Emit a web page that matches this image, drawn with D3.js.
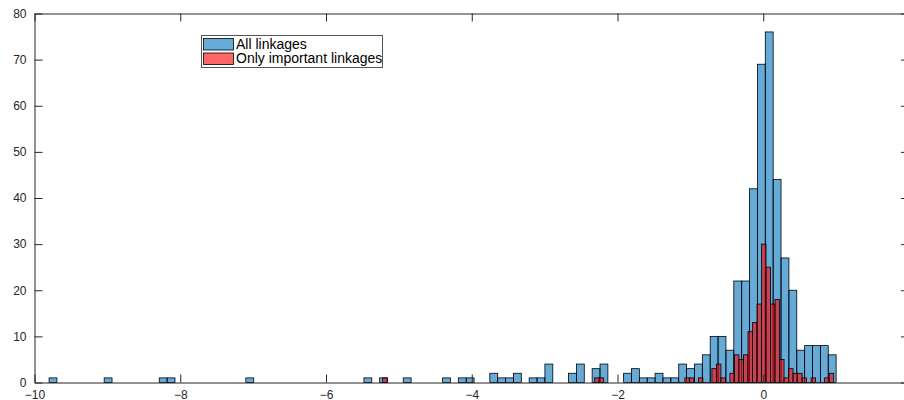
<!DOCTYPE html>
<html>
<head>
<meta charset="utf-8">
<script src="https://cdn.jsdelivr.net/npm/d3@7"></script>
<style>
  body { margin: 0; background: #ffffff; }
  text { font-family: "Liberation Sans", Arial, Helvetica, sans-serif; }
</style>
</head>
<body>
<div id="chart"></div>
<script>
"use strict"

// canvas
let svgWidth = 904;
let svgHeight = 400;

// histogram bins (100 equal bins each)
let allStart = -9.8;
let allWidth = 0.108;
let impStart = -5.222;
let impWidth = 0.06188;

// counts per bin - "All linkages"
let allCounts = [
    1, 0, 0, 0, 0, 0, 0, 1, 0, 0,
    0, 0, 0, 0, 1, 1, 0, 0, 0, 0,
    0, 0, 0, 0, 0, 1, 0, 0, 0, 0,
    0, 0, 0, 0, 0, 0, 0, 0, 0, 0,
    1, 0, 1, 0, 0, 1, 0, 0, 0, 0,
    1, 0, 1, 1, 0, 0, 2, 1, 1, 2,
    0, 1, 1, 4, 0, 0, 2, 4, 0, 3,
    4, 0, 0, 2, 3, 1, 1, 2, 1, 1,
    4, 3, 4, 6, 10, 10, 7, 22, 22, 42,
    69, 76, 44, 27, 20, 7, 8, 8, 8, 6
];

// counts per bin - "Only important linkages"
let impCounts = [
    1, 0, 0, 0, 0, 0, 0, 0, 0, 0,
    0, 0, 0, 0, 0, 0, 0, 0, 0, 0,
    0, 0, 0, 0, 0, 0, 0, 0, 0, 0,
    0, 0, 0, 0, 0, 0, 0, 0, 0, 0,
    0, 0, 0, 0, 0, 0, 0, 1, 1, 0,
    0, 0, 0, 0, 0, 0, 0, 0, 0, 0,
    0, 0, 0, 0, 0, 0, 0, 1, 1, 0,
    1, 0, 0, 3, 4, 1, 0, 2, 6, 5,
    6, 11, 13, 17, 30, 25, 17, 18, 5, 1,
    3, 2, 2, 1, 0, 1, 0, 0, 1, 2
];

let seriesNames = ["All linkages", "Only important linkages"];
let xTicks = [-10, -8, -6, -4, -2, 0, 2];
let yTicks = [0, 10, 20, 30, 40, 50, 60, 70, 80];

// styles
let axisColor = "#262626";
let blueFill = "#0072BD";
let redFill = "#FF0000";
let faceAlpha = 0.6;

let svg = d3.select("#chart")
    .append("svg")
    .attr("width", svgWidth)
    .attr("height", svgHeight);

// scales - right end of the axes falls just outside the picture
let xScale = d3.scaleLinear()
    .domain([-10, 2])
    .range([34.5, 909]);

let yScale = d3.scaleLinear()
    .domain([0, 80])
    .range([382.5, 13.5]);

// turn counts into bars
function makeBars(counts, start, width) {
    return counts.map(function (c, i) {
        return { x0: start + i * width, x1: start + (i + 1) * width, count: c };
    }).filter(function (d) {
        return d.count > 0;
    });
}

let allBars = makeBars(allCounts, allStart, allWidth);
let impBars = makeBars(impCounts, impStart, impWidth);

function drawBars(bars, fill, cls) {
    svg.append("g")
        .selectAll("rect." + cls)
        .data(bars)
        .join("rect")
        .attr("class", cls)
        .attr("x", function (d) { return xScale(d.x0); })
        .attr("width", function (d) { return xScale(d.x1) - xScale(d.x0); })
        .attr("y", function (d) { return yScale(d.count); })
        .attr("height", function (d) { return yScale(0) - yScale(d.count); })
        .attr("fill", fill)
        .attr("fill-opacity", faceAlpha)
        .attr("stroke", "black")
        .attr("stroke-width", 0.8);
}

drawBars(allBars, blueFill, "all");
drawBars(impBars, redFill, "imp");

// AXES - ticks point inward, box all round
function styleAxis(g) {
    g.selectAll("path, line").attr("stroke", axisColor).attr("stroke-width", 1);
    g.selectAll("text")
        .attr("fill", axisColor)
        .style("font-size", "12px")
        .style("font-family", "'Liberation Sans', Arial, sans-serif");
}

svg.append("g")
    .attr("transform", "translate(0," + yScale(0) + ")")
    .call(d3.axisBottom(xScale).tickValues(xTicks).tickSize(-8).tickSizeOuter(0).tickPadding(7.5))
    .call(styleAxis);

svg.append("g")
    .attr("transform", "translate(0," + yScale(80) + ")")
    .call(d3.axisTop(xScale).tickValues(xTicks).tickSize(-8).tickSizeOuter(0).tickFormat(""))
    .call(styleAxis);

svg.append("g")
    .attr("transform", "translate(" + xScale(-10) + ",0)")
    .call(d3.axisLeft(yScale).tickValues(yTicks).tickSize(-8).tickSizeOuter(0).tickPadding(8))
    .call(styleAxis);

svg.append("g")
    .attr("transform", "translate(" + xScale(2) + ",0)")
    .call(d3.axisRight(yScale).tickValues(yTicks).tickSize(-8).tickSizeOuter(0).tickFormat(""))
    .call(styleAxis);

// LEGEND
let legend = svg.append("g");

legend.append("rect")
    .attr("x", 201.5)
    .attr("y", 35.5)
    .attr("width", 181)
    .attr("height", 32)
    .attr("fill", "white")
    .attr("stroke", "#555555")
    .attr("stroke-width", 1);

let legendFills = [blueFill, redFill];

for (let i = 0; i < seriesNames.length; i++) {
    legend.append("rect")
        .attr("x", 203.5)
        .attr("y", 38.5 + i * 14.5)
        .attr("width", 30)
        .attr("height", 11.5)
        .attr("fill", legendFills[i])
        .attr("fill-opacity", faceAlpha)
        .attr("stroke", "black")
        .attr("stroke-width", 0.8);

    legend.append("text")
        .attr("x", 236)
        .attr("y", 49 + i * 14.2)
        .style("font-size", "14px")
        .attr("fill", "black")
        .text(seriesNames[i]);
}
</script>
</body>
</html>
